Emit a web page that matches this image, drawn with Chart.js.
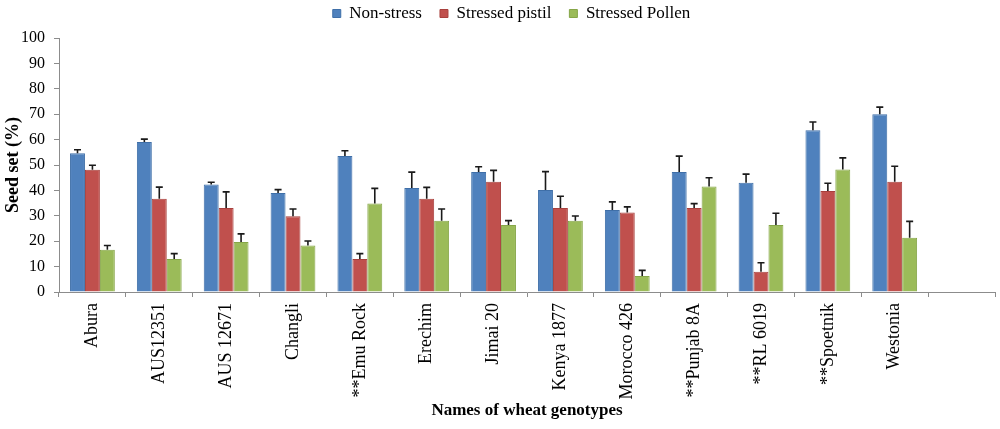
<!DOCTYPE html>
<html>
<head>
<meta charset="utf-8">
<script src="https://cdn.jsdelivr.net/npm/chart.js@4/dist/chart.umd.min.js"></script>
<style>
html, body { margin: 0; padding: 0; background: #fff; }
#wrap { width: 1000px; height: 429px; position: relative; }
</style>
</head>
<body>
<div id="wrap"><canvas id="seedChart"></canvas></div>
<script>
// wheat genotypes (last slot is an empty category, as in the original)
const genotypes = ["Abura", "AUS12351", "AUS 12671", "Changli", "**Emu Rock", "Erechim",
    "Jimai 20", "Kenya 1877", "Morocco 426", "**Punjab 8A", "**RL 6019", "**Spoetnik", "Westonia", ""];

const nonStress      = [54.6, 59.1, 42.3, 39.0, 53.5, 40.9, 47.2, 40.2, 32.3, 47.2, 43.0, 63.7, 70.0, null];
const stressedPistil = [48.1, 36.7, 33.1, 29.8, 13.0, 36.7, 43.4, 33.1, 31.3, 33.1, 8.0, 39.8, 43.4, null];
const stressedPollen = [16.6, 13.0, 19.7, 18.3, 34.8, 28.1, 26.4, 28.1, 6.3, 41.5, 26.4, 48.2, 21.4, null];

// upper error bar lengths
const errNonStress      = [1.4, 1.1, 0.9, 1.3, 2.1, 6.3, 2.1, 7.2, 3.2, 6.3, 3.4, 3.2, 2.8, null];
const errStressedPistil = [1.8, 4.6, 6.3, 2.9, 2.1, 4.5, 4.5, 4.6, 2.2, 1.7, 3.5, 3.0, 6.1, null];
const errStressedPollen = [1.7, 2.1, 3.2, 1.8, 6.0, 4.6, 1.7, 1.8, 2.2, 3.5, 4.6, 4.6, 6.4, null];

const yTicks = [0, 10, 20, 30, 40, 50, 60, 70, 80, 90, 100];

const errors = [errNonStress, errStressedPistil, errStressedPollen];

const serif = "'Liberation Serif', 'Times New Roman', serif";

const errorBars = {
    id: "errorBars",
    afterDatasetsDraw(chart) {
        const ctx = chart.ctx;
        const yScale = chart.scales.y;
        ctx.save();
        ctx.strokeStyle = "#1a1a1a";
        ctx.lineWidth = 1.6;
        chart.data.datasets.forEach((ds, i) => {
            const meta = chart.getDatasetMeta(i);
            meta.data.forEach((bar, j) => {
                const v = ds.data[j];
                const e = errors[i][j];
                if (v == null || e == null) return;
                const yTop = yScale.getPixelForValue(v + e);
                ctx.beginPath();
                ctx.moveTo(bar.x, bar.y);
                ctx.lineTo(bar.x, yTop);
                ctx.moveTo(bar.x - 3.5, yTop);
                ctx.lineTo(bar.x + 3.5, yTop);
                ctx.stroke();
            });
        });
        ctx.restore();
    }
};

// legend: fixed height, drawn a bit higher and nudged to the right
const legendSpot = {
    id: "legendSpot",
    beforeInit(chart) {
        const fit = chart.legend.fit;
        chart.legend.fit = function () {
            fit.bind(chart.legend)();
            this.height = 38;
        };
    },
    afterLayout(chart) {
        const lg = chart.legend;
        lg.left += 14;
        lg.right += 14;
        lg.top -= 13;
        lg.bottom -= 13;
    }
};

new Chart(document.getElementById("seedChart"), {
    type: "bar",
    data: {
        labels: genotypes,
        datasets: [
            { label: "Non-stress", data: nonStress,
              backgroundColor: "#4F81BD", borderColor: "#3f6fa8", borderWidth: 1 },
            { label: "Stressed pistil", data: stressedPistil,
              backgroundColor: "#C0504D", borderColor: "#a8403d", borderWidth: 1 },
            { label: "Stressed Pollen", data: stressedPollen,
              backgroundColor: "#9BBB59", borderColor: "#86a648", borderWidth: 1 }
        ]
    },
    options: {
        responsive: true,
        maintainAspectRatio: false,
        animation: false,
        layout: { padding: { top: 0, right: 5, left: 0, bottom: 0 } },
        datasets: { bar: { barPercentage: 1.0, categoryPercentage: 0.67 } },
        plugins: {
            legend: {
                position: "top",
                labels: {
                    font: { family: serif, size: 17 },
                    color: "#000",
                    boxWidth: 8,
                    boxHeight: 8,
                    padding: 18
                }
            },
            tooltip: { enabled: false }
        },
        scales: {
            x: {
                afterFit(scale) { scale.height = 137; },
                grid: { display: true, drawOnChartArea: false, color: "#8c8c8c", tickLength: 5, offset: true },
                border: { color: "#8c8c8c" },
                ticks: {
                    font: { family: serif, size: 18 },
                    color: "#000",
                    minRotation: 90,
                    maxRotation: 90,
                    autoSkip: false,
                    padding: 6
                },
                title: {
                    display: true,
                    text: "Names of wheat genotypes",
                    font: { family: serif, size: 17, weight: "bold" },
                    color: "#000",
                    padding: { top: 0, bottom: 8 }
                }
            },
            y: {
                min: 0,
                max: 100,
                afterFit(scale) { scale.width = 59; },
                afterBuildTicks(scale) {
                    scale.ticks = yTicks.map(v => ({ value: v }));
                },
                grid: { display: true, drawOnChartArea: false, color: "#8c8c8c", tickLength: 5 },
                border: { color: "#8c8c8c" },
                ticks: {
                    font: { family: serif, size: 16 },
                    color: "#000",
                    padding: 9
                },
                title: {
                    display: true,
                    text: "Seed set (%)",
                    font: { family: serif, size: 18, weight: "bold" },
                    color: "#000",
                    padding: { top: 3, bottom: 0 }
                }
            }
        }
    },
    plugins: [errorBars, legendSpot]
});
</script>
</body>
</html>
